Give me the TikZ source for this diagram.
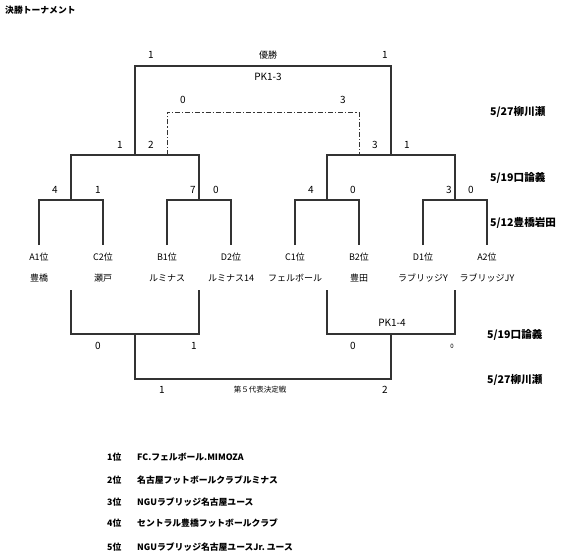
\documentclass[tikz,border=0pt]{standalone}
\usepackage{fontspec}
\setmainfont{Noto Sans CJK JP}
\usetikzlibrary{calc}
\definecolor{inkline}{HTML}{333333}
\tikzset{score/.style={font=\fontsize{10}{12}\selectfont,inner sep=0pt},team/.style={font=\fontsize{9}{11}\selectfont,inner sep=0pt},venue/.style={font=\fontsize{10.6}{12}\selectfont\bfseries,anchor=west,inner sep=0pt},ranking/.style={font=\fontsize{8.8}{10}\selectfont\bfseries,anchor=west,inner sep=0pt},smallnote/.style={font=\fontsize{7.5}{9}\selectfont,inner sep=0pt},bracket/.style={line width=1.3pt,draw=inkline},thirdplace/.style={line width=.9pt,draw=inkline,dash pattern=on 5pt off 2pt on 1.2pt off 2pt}}

\begin{document}
\begin{tikzpicture}[x=1pt,y=-1pt]
\useasboundingbox (0,0) rectangle (567,558);
\node[ranking] (title) at (5,10) {決勝トーナメント};
% leaves and junctions
\foreach \n/\x in {a1/39,c2/103,b1/167,d2/231,c1/295,b2/359,d1/423,a2/487}{\coordinate (\n) at (\x,245);}
\foreach \i/\x in {1/71,2/199,3/327,4/455}{\coordinate (q\i) at (\x,200); \coordinate (p\i) at (\x,290);}
\coordinate (s1) at (135,155); \coordinate (s2) at (391,155); \coordinate (f) at (263,66);
\coordinate (t1) at (167,155); \coordinate (t2) at (359,155); \coordinate (tp) at (263,112);
\coordinate (r1) at (135,334); \coordinate (r2) at (391,334); \coordinate (g) at (263,379);
\draw[bracket] (a1) |- (q1) -| (c2) (b1) |- (q2) -| (d2) (c1) |- (q3) -| (b2) (d1) |- (q4) -| (a2);
\draw[bracket] (q1) |- (s1) -| (q2) (q3) |- (s2) -| (q4) (s1) |- (f) -| (s2);
\draw[thirdplace] (t1) |- (tp) -| (t2);
\draw[bracket] (p1) |- (r1) -| (p2) (p3) |- (r2) -| (p4) (r1) |- (g) -| (r2);
% teams
\foreach \n/\x/\sd/\nm in {a1/39/A1位/豊橋,c2/103/C2位/瀬戸,b1/167/B1位/ルミナス,d2/231/D2位/ルミナス14,c1/295/C1位/フェルボール,b2/359/B2位/豊田,d1/423/D1位/ラブリッジY,a2/487/A2位/ラブリッジJY}{\node[team] (seed-\n) at (\x,257) {\sd}; \node[team] (name-\n) at (\x,278) {\nm};}
% scores
\foreach [count=\i] \x/\y/\t in {151/55/1,385/55/1,268/77/PK1-3,183/100/0,343/100/3,120/145/1,151/145/2,375/145/3,407/145/1,55/190/4,98/190/1,193/190/7,216/190/0,311/190/4,353/190/0,449/190/3,471/190/0,392/323/PK1-4,98/346/0,194/346/1,353/346/0,162/390/1,385/390/2}{\node[score] (sc\i) at (\x,\y) {\t};}
\node[team] (champ) at (268,55) {優勝};
\node[smallnote,font=\fontsize{6}{7}\selectfont] (pk0) at (452,346) {0};
\node[smallnote] (fifth) at (260,390) {第５代表決定戦};
% venues
\foreach [count=\i] \x/\y/\t in {490/112/{5/27柳川瀬},490/178/{5/19口論義},490/223/{5/12豊橋岩田},487/335/{5/19口論義},487/380/{5/27柳川瀬}}{\node[venue] (v\i) at (\x,\y) {\t};}
% final ranking
\foreach [count=\i] \y/\t in {457/FC.フェルボール.MIMOZA,480/名古屋フットボールクラブルミナス,502/NGUラブリッジ名古屋ユース,523/セントラル豊橋フットボールクラブ,547/NGUラブリッジ名古屋ユースJr.\ ユース}{\node[ranking] (rank\i) at (107,\y) {{\i}位}; \node[ranking] (club\i) at (137,\y) {\t};}
\end{tikzpicture}
\end{document}
